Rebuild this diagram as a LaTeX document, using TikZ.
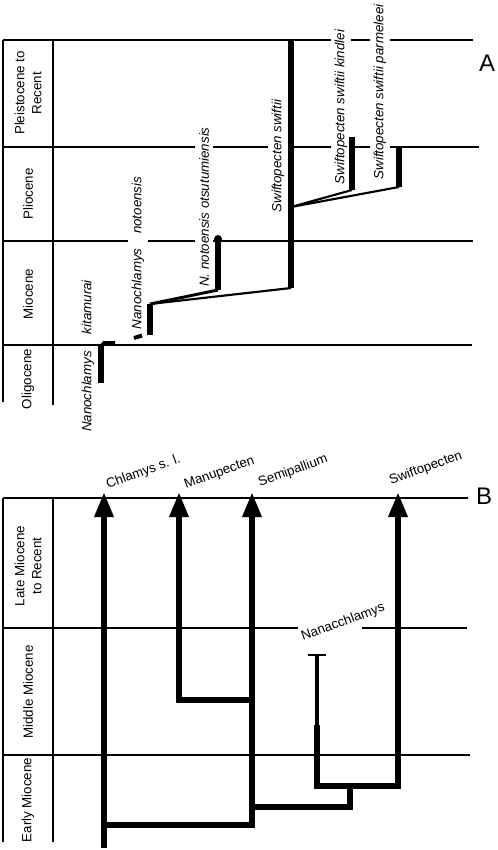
\documentclass[tikz,border=0pt]{standalone}
\usepackage{fontspec}
\setmainfont{Liberation Sans}
\usetikzlibrary{arrows.meta}
\tikzstyle{boundary} = [line width=1.1pt]
\tikzstyle{era} = [font=\fontsize{10}{12.75}\selectfont, rotate=90, align=center, inner sep=0.75pt]
\tikzstyle{taxon} = [font=\fontsize{10}{12}\selectfont\itshape, rotate=90, fill=white, inner sep=3pt]
\tikzstyle{rangebar} = [line width=4pt]
\tikzstyle{link} = [line width=1.6pt]
\tikzstyle{limb} = [line width=4.6pt]
\tikzstyle{arrowlimb} = [limb, -{Triangle[length=18.75pt, width=13.5pt]}]
\tikzstyle{clade} = [font=\fontsize{10}{12}\selectfont, rotate=20, anchor=base west, inner sep=0.75pt]
\tikzstyle{panel} = [font=\fontsize{18}{20}\selectfont, inner sep=0pt]

\begin{document}
\begin{tikzpicture}[x=0.75pt,y=0.75pt,yscale=-1,xscale=1]
\path[use as bounding box] (0,0) rectangle (497,850);

%%%%% A %%%%%
%Straight Lines
\draw[boundary] (3,40) -- (473,40);
\draw[boundary] (3,147) -- (479,147);
\draw[boundary] (3,241) -- (473,241);
\draw[boundary] (3,345) -- (472,345);
\draw[boundary] (3,40) -- (3,402);
\draw[boundary] (53,40) -- (53,405);

% Text Node
\node[era] (plei) at (28,93) {Pleistocene to\\Recent};
\node[era] (plio) at (28,194) {Pliocene};
\node[era] (mio) at (28,294) {Miocene};
\node[era] (oligo) at (28,379) {Oligocene};

% Text Node
\node[taxon, fill=none] (kitlab) at (88,356) {Nanochlamys\hspace{12.75pt}kitamurai};
\node[taxon] (notolab) at (138,253) {Nanochlamys\hspace{11pt}notoensis};
\node[taxon] (otsulab) at (204,207) {N. notoensis otsutumiensis};
\node[taxon] (swiflab) at (278,156) {Swiftopecten swiftii};
\node[taxon] (kindlab) at (341,107) {Swiftopecten swiftii kindlei};
\node[taxon] (parmlab) at (380,92) {Swiftopecten swiftii parmeleei};

\coordinate (kitbase) at (101,383);
\coordinate (kittop) at (101,346);
\coordinate (dashlow) at (134,338);
\coordinate (dashhigh) at (142,335.5);
\coordinate (notobase) at (150,335);
\coordinate (nototop) at (150,304);
\coordinate (otsubase) at (218,290);
\coordinate (otsutop) at (218,239);
\coordinate (swifbase) at (291,288);
\coordinate (swiftop) at (291,40);
\coordinate (swifsplit) at (291,207);
\coordinate (kindbase) at (352,190);
\coordinate (kindtop) at (352,137);
\coordinate (parmbase) at (399,187);
\coordinate (parmtop) at (399,147);

%Range bars
\draw[rangebar] (kitbase) -- (kittop);
\draw[line width=2.2pt] (kittop) -- ++(3,-3.5) -- ++(11,0);
\draw[line width=3pt] (dashlow) -- (dashhigh);
\draw[rangebar, line width=5pt] (notobase) -- (nototop);
\draw[rangebar, line width=5pt] (otsubase) -- (otsutop);
\fill (otsutop) circle (3pt);
\draw[link, line width=2.2pt] (nototop) -- (otsubase);
\draw[link] (nototop) -- (swifbase);
\draw[rangebar] (swifbase) -- (swiftop);
\draw[rangebar] (kindbase) -- (kindtop);
\draw[rangebar] (parmbase) -- (parmtop);
\draw[link] (swifsplit) -- (kindbase);
\draw[link] (swifsplit) -- (parmbase);

% Text Node
\node[panel] (panA) at (487,63) {A};

%%%%% B %%%%%
%Straight Lines
\draw[boundary] (3,498) -- (468,498);
\draw[boundary] (3,628) -- (298,628);
\draw[boundary] (362,628) -- (467,628);
\draw[boundary] (3,755) -- (470,755);
\draw[boundary] (3,498) -- (3,842);
\draw[boundary] (53,498) -- (53,842);

% Text Node
\node[era] (late) at (28,566) {Late Miocene\\to Recent};
\node[era] (middle) at (28,692) {Middle Miocene};
\node[era] (early) at (28,800) {Early Miocene};

\coordinate (chlbase) at (104,848);
\coordinate (chltip) at (104,492);
\coordinate (mantip) at (179,492);
\coordinate (semtip) at (252,492);
\coordinate (switip) at (398,492);
\coordinate (swibase) at (398,786);
\coordinate (root) at (104,825);
\coordinate (mansplit) at (252,700);
\coordinate (semsplit) at (252,807);
\coordinate (nansplit) at (350,786);
\coordinate (nanmid) at (317,725);
\coordinate (nantop) at (317,655);

%Lineages
\draw[arrowlimb] (chlbase) -- (chltip);
\draw[arrowlimb] (root) -| (semtip);
\draw[arrowlimb] (mansplit) -| (mantip);
\draw[limb] (semsplit) -| (nansplit);
\draw[arrowlimb] (nanmid) |- (swibase) -- (switip);
\draw[line width=2.5pt] (nanmid) -- (nantop);
\draw[boundary] ([xshift=-7pt]nantop) -- ([xshift=7pt]nantop);

% Text Node
\node[clade] (chllab) at (107,489) {Chlamys s. l.};
\node[clade] (manlab) at (185,489) {Manupecten};
\node[clade] (semlab) at (259,487) {Semipallium};
\node[clade] (swilab) at (390,485) {Swiftopecten};
\node[clade] (nanlab) at (302,641) {Nanacchlamys};
\node[panel] (panB) at (484,496) {B};

\end{tikzpicture}
\end{document}
